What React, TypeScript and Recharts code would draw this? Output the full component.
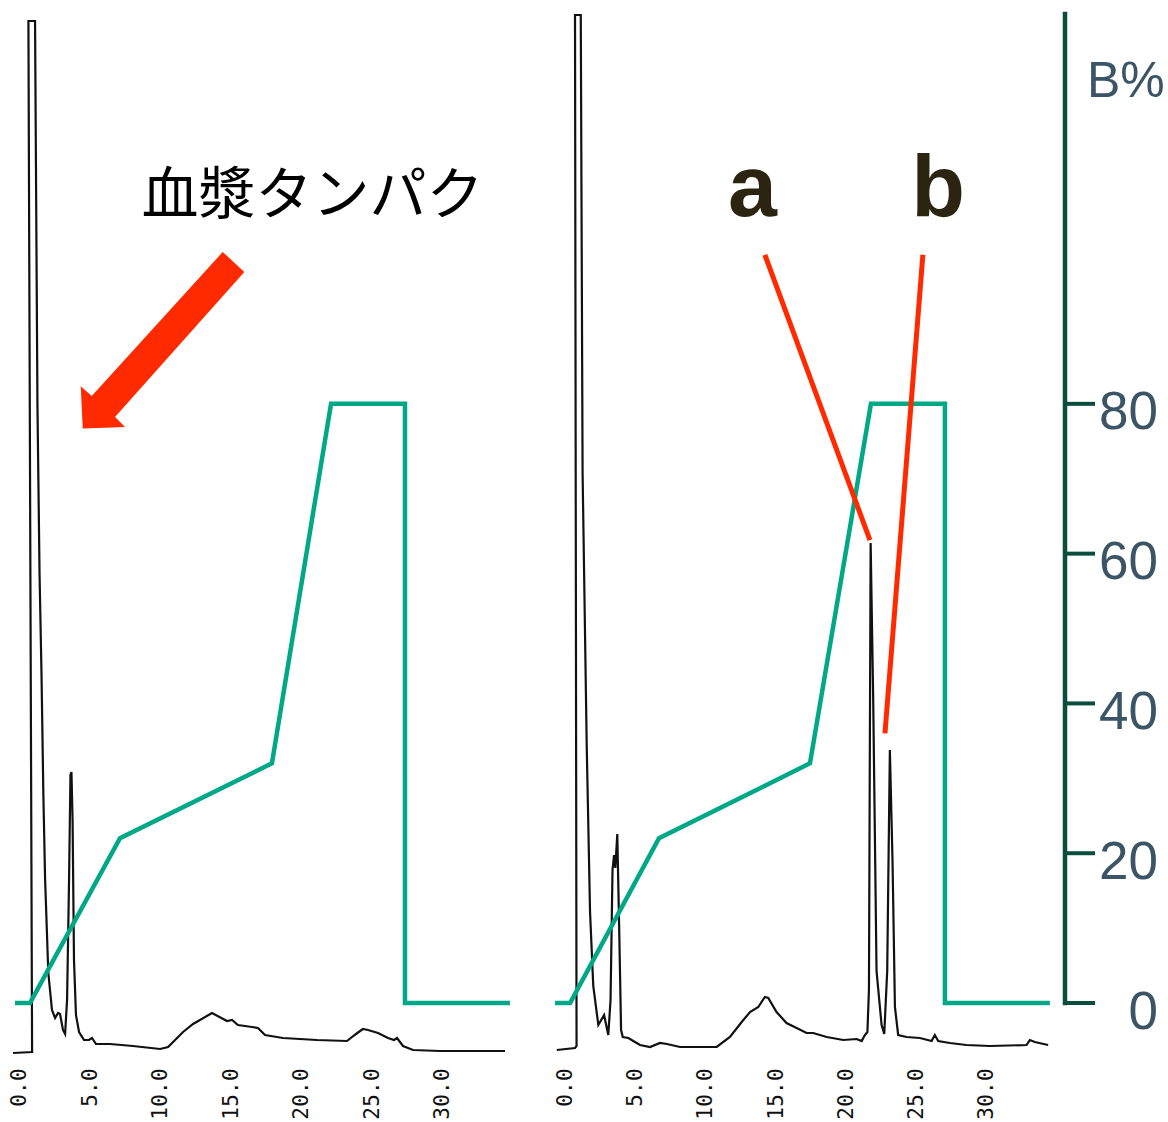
import React from 'react';
import { LineChart, Line, XAxis, YAxis, ReferenceLine, ReferenceDot } from 'recharts';

// x-axis tick values (retention time, min)
const timeTicks = [0, 5, 10, 15, 20, 25, 30];
// B% axis tick values
const bTicks = [0, 20, 40, 60, 80];

// Left panel: plasma protein chromatogram (time in min, signal arbitrary units)
const plasmaTime = [-0.43, 0.92, 0.66, 1.13, 1.3, 1.45, 1.59, 1.72, 1.84, 2.07, 2.33, 2.55, 2.76, 2.9, 3.11, 3.26, 3.4, 3.54, 3.64, 3.71, 3.79, 3.89, 4.03, 4.25, 4.6, 4.95, 5.17, 5.45, 6.44, 8.07, 9.99, 10.56, 11.62, 12.33, 12.82, 13.67, 14.74, 15.09, 15.51, 16.51, 16.93, 17.43, 18.7, 21.11, 23.24, 23.88, 24.37, 24.73, 25.44, 26.15, 26.57, 26.79, 27.21, 27.92, 29.84, 34.44];
const plasmaSignal = [0.2, 0.3, 103.4, 103.4, 65.0, 48.0, 37.9, 26.0, 17.7, 8.2, 4.5, 3.7, 4.2, 4.1, 2.5, 2.1, 5.5, 17.5, 28.0, 28.3, 23.5, 9.5, 4.0, 2.3, 1.5, 1.5, 1.7, 1.1, 1.1, 0.9, 0.6, 0.8, 2.3, 3.1, 3.5, 4.2, 3.4, 3.5, 3.0, 2.8, 2.7, 2.0, 1.7, 1.5, 1.4, 2.1, 2.6, 2.5, 2.2, 1.7, 1.5, 1.7, 0.9, 0.5, 0.4, 0.4];

// Right panel: spiked sample chromatogram with peaks a and b
const sampleTime = [-0.59, 0.71, 0.82, 0.71, 1.12, 1.25, 1.54, 1.78, 2.01, 2.37, 2.78, 3.08, 3.24, 3.38, 3.49, 3.58, 3.72, 3.86, 3.99, 4.11, 4.51, 4.98, 5.34, 6.05, 6.76, 7.26, 8.19, 10.8, 11.74, 12.58, 13.17, 13.76, 14.23, 14.47, 15.06, 15.77, 17.2, 17.67, 18.63, 19.81, 20.76, 21.12, 21.35, 21.53, 21.64, 21.69, 21.76, 21.94, 22.18, 22.54, 22.73, 22.94, 23.0, 23.13, 23.32, 23.49, 23.72, 24.32, 25.27, 26.1, 26.33, 26.57, 27.4, 28.58, 30.25, 32.86, 33.1, 33.45, 34.4];
const sampleSignal = [0.5, 0.7, 0.9, 104.0, 104.0, 58.2, 31.2, 14.3, 6.9, 3.0, 4.0, 2.0, 5.5, 18.5, 20.0, 18.7, 22.1, 12.3, 2.5, 1.8, 1.7, 1.3, 1.0, 0.8, 1.2, 1.1, 0.8, 0.8, 1.8, 3.3, 4.3, 4.8, 5.8, 5.7, 4.3, 3.2, 2.2, 2.2, 1.8, 1.5, 1.6, 1.4, 2.0, 2.3, 6.5, 25.5, 51.2, 35.9, 8.4, 3.0, 2.1, 8.4, 15.5, 30.5, 19.3, 4.8, 2.0, 1.8, 1.7, 1.4, 2.0, 1.4, 1.2, 1.0, 0.9, 1.0, 1.5, 1.3, 1.0];

// Gradient program (B%) as overlaid on each panel
const gradientLeftTime = [-0.29, 0.77, 7.15, 17.92, 22.11, 27.35, 27.35, 34.79];
const gradientRightTime = [-0.71, 0.36, 6.69, 17.44, 21.78, 27.05, 27.05, 34.52];
const gradientB = [0, 0, 22, 32, 80, 80, 0, 0];

const zipTrace = (t: number[], v: number[]) => t.map((x, i) => ({ t: x, v: v[i] }));
const zipGrad = (t: number[], b: number[]) => t.map((x, i) => ({ t: x, b: b[i] }));

const leftTrace = zipTrace(plasmaTime, plasmaSignal);
const rightTrace = zipTrace(sampleTime, sampleSignal);
const leftGrad = zipGrad(gradientLeftTime, gradientB);
const rightGrad = zipGrad(gradientRightTime, gradientB);

const SIG_DOMAIN: [number, number] = [0, 104.1];
const B_DOMAIN: [number, number] = [-6.94, 132.05];
const RIGHT_MAX = 35.6;

const GREEN = '#00a886';
const AXIS_GREEN = '#0b4d3c';
const SLATE = '#3b5566';
const RED = '#ff2a00';

const XTick = (props: any) => {
  const { x, y, payload } = props;
  return (
    <text
      x={x}
      y={y}
      transform={`rotate(-90, ${x}, ${y})`}
      textAnchor="end"
      dominantBaseline="central"
      fontFamily="'DejaVu Sans Mono', 'Liberation Mono', monospace"
      fontSize={21}
      letterSpacing={0.3}
      fill="#111"
    >
      {Number(payload.value).toFixed(1)}
    </text>
  );
};

const BTick = (props: any) => {
  const { x, y, payload } = props;
  return (
    <text
      x={x + 63}
      y={y + 7}
      textAnchor="end"
      dominantBaseline="central"
      fontFamily="'Liberation Sans', Arial, sans-serif"
      fontSize={53}
      fill={SLATE}
    >
      {payload.value}
    </text>
  );
};

const textShape = (label: string, size: number, color: string, weight: string, family: string, anchor: string = 'middle') => (p: any) => (
  <text x={p.cx} y={p.cy} textAnchor={anchor} fontSize={size} fill={color} fontWeight={weight} fontFamily={family}>
    {label}
  </text>
);

const arrowHead = (p: any) => {
  const { cx, cy } = p;
  const pts = [
    [0, 0],
    [-2, -42.3],
    [9, -32.6],
    [140, -176.6],
    [161.6, -156.6],
    [32.3, -11.6],
    [42.3, -1.6],
  ]
    .map(([dx, dy]) => `${cx + dx},${cy + dy}`)
    .join(' ');
  return <polygon points={pts} fill={RED} />;
};

const xAxisCommon = {
  dataKey: 't',
  type: 'number' as const,
  allowDataOverflow: true,
  ticks: timeTicks,
  interval: 0 as const,
  tickLine: false,
  axisLine: false,
  tickSize: 0,
  tickMargin: 13,
  height: 67,
  tick: <XTick />,
};

export default function App() {
  return (
    <div style={{ position: 'absolute', left: 0, top: 0, width: 1168, height: 1122, background: '#fff' }}>
      <div style={{ position: 'absolute', left: 0, top: 0 }}>
        <LineChart width={540} height={1122} margin={{ top: 14, right: 13, bottom: 0, left: 5 }}>
          <XAxis {...xAxisCommon} domain={[-1, 36]} />
          <YAxis yAxisId="sig" hide type="number" domain={SIG_DOMAIN} allowDataOverflow />
          <YAxis yAxisId="b" hide type="number" domain={B_DOMAIN} allowDataOverflow />
          <Line yAxisId="sig" data={leftTrace} dataKey="v" stroke="#111" strokeWidth={2.2} dot={false} isAnimationActive={false} type="linear" />
          <Line yAxisId="b" data={leftGrad} dataKey="b" stroke={GREEN} strokeWidth={4.5} dot={false} isAnimationActive={false} type="linear" strokeLinejoin="miter" />
          <ReferenceDot yAxisId="b" x={20.8} y={105.4} r={1} ifOverflow="visible"
            shape={textShape('血漿タンパク', 57, '#000', 'normal', "'Noto Sans CJK JP', sans-serif")} />
          <ReferenceDot yAxisId="b" x={4.51} y={76.7} r={1} ifOverflow="visible" shape={arrowHead} />
        </LineChart>
      </div>
      <div style={{ position: 'absolute', left: 540, top: 0 }}>
        <LineChart width={628} height={1122} margin={{ top: 14, right: 0, bottom: 0, left: 11 }}>
          <XAxis {...xAxisCommon} domain={[-1, RIGHT_MAX]} />
          <YAxis yAxisId="sig" hide type="number" domain={SIG_DOMAIN} allowDataOverflow />
          <YAxis
            yAxisId="b"
            orientation="right"
            type="number"
            domain={B_DOMAIN}
            allowDataOverflow
            ticks={bTicks}
            interval={0}
            width={103}
            axisLine={false}
            tickSize={30}
            tickMargin={0}
            tickLine={{ stroke: AXIS_GREEN, strokeWidth: 4 }}
            tick={<BTick />}
          />
          <Line yAxisId="sig" data={rightTrace} dataKey="v" stroke="#111" strokeWidth={2.2} dot={false} isAnimationActive={false} type="linear" />
          <Line yAxisId="b" data={rightGrad} dataKey="b" stroke={GREEN} strokeWidth={4.5} dot={false} isAnimationActive={false} type="linear" strokeLinejoin="miter" />
          <ReferenceLine yAxisId="b" ifOverflow="visible" segment={[{ x: RIGHT_MAX, y: 0 }, { x: RIGHT_MAX, y: 132.05 }]} stroke={AXIS_GREEN} strokeWidth={4.5} strokeLinecap="square" />
          <ReferenceLine yAxisId="b" segment={[{ x: 14.23, y: 99.9 }, { x: 21.71, y: 61.8 }]} stroke={RED} strokeWidth={5} />
          <ReferenceLine yAxisId="b" segment={[{ x: 25.48, y: 99.9 }, { x: 22.78, y: 36.0 }]} stroke={RED} strokeWidth={5} />
          <ReferenceDot yAxisId="b" x={13.35} y={105.1} r={1} ifOverflow="visible"
            shape={textShape('a', 88, '#2b2410', 'bold', "'Liberation Sans', Arial, sans-serif")} />
          <ReferenceDot yAxisId="b" x={26.56} y={105.1} r={1} ifOverflow="visible"
            shape={textShape('b', 88, '#2b2410', 'bold', "'Liberation Sans', Arial, sans-serif")} />
          <ReferenceDot yAxisId="b" x={RIGHT_MAX} y={121} r={1} ifOverflow="visible"
            shape={(p: any) => (
              <text x={p.cx + 22} y={p.cy} fontSize={50} fill={SLATE} fontFamily="'Liberation Sans', Arial, sans-serif">B%</text>
            )} />
        </LineChart>
      </div>
    </div>
  );
}
